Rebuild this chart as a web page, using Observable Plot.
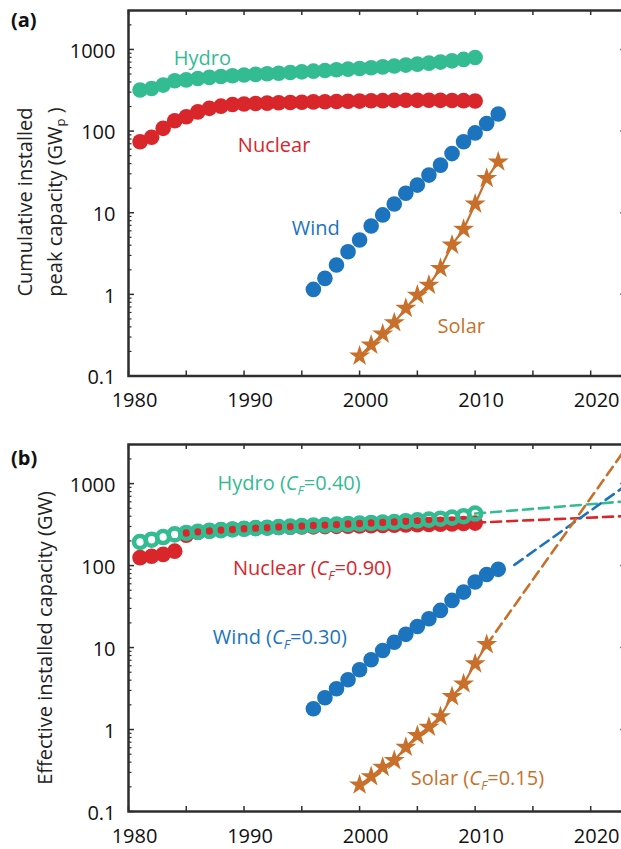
<!DOCTYPE html>
<html><head><meta charset="utf-8">
<script src="https://cdn.jsdelivr.net/npm/d3@7"></script>
<script src="https://cdn.jsdelivr.net/npm/@observablehq/plot@0.6"></script>
<style>
html,body{margin:0;padding:0;width:621px;height:849px;overflow:hidden;background:#fff;font-family:"Open Sans",sans-serif;}
#wrap{position:relative;width:621px;height:849px;overflow:hidden;}
.panel{position:absolute;left:0;}
.panel svg{max-width:none!important;}
.ylab{position:absolute;transform:translate(-50%,-50%) rotate(-90deg);white-space:nowrap;font-size:20px;color:#222;text-align:center;line-height:30px;}
.ylab sub{font-size:13px;vertical-align:-3px;}
.tag{position:absolute;font-weight:bold;font-size:20px;color:#111;}
</style></head>
<body><div id="wrap"></div>
<script>
// ---------- data ----------
const yearsHN = [1981,1982,1983,1984,1985,1986,1987,1988,1989,1990,1991,1992,1993,1994,1995,1996,1997,1998,1999,2000,2001,2002,2003,2004,2005,2006,2007,2008,2009,2010];
const hydroPeak   = [318,333,366,413,424,441,455,466,476,486,495,503,512,522,532,542,552,563,574,585,598,612,626,643,661,680,700,725,755,798];
const nuclearPeak = [74,84,108,134,150,172,190,202,212,215,218,220,222,224,226,228,229,230,232,233,235,236,238,239,238,239,238,237,236,234];
const windYears = [1996,1997,1998,1999,2000,2001,2002,2003,2004,2005,2006,2007,2008,2009,2010,2011,2012];
const windPeak  = [1.15,1.57,2.29,3.33,4.63,6.87,9.4,12.8,17.3,21.8,28.9,38.3,53,74,95,124,162];
const solarYearsA = [2000,2001,2002,2003,2004,2005,2006,2007,2008,2009,2010,2011,2012];
const solarPeak   = [0.176,0.24,0.327,0.45,0.676,0.98,1.3,2.08,4.03,6.27,12.8,26.4,42];

const hydroEff   = [194,207,223,240,250,258,265,271,276,281,286,290,295,299,303,308,312,316,321,326,331,335,340,348,356,364,373,385,400,431];
const nuclearEff = [125,130,137,150,235,255,265,272,278,282,286,289,291,293,295,297,299,301,303,305,307,309,311,313,315,317,319,322,326,330];
const windEff    = [1.79,2.44,3.14,4.05,5.36,7.1,9.2,11.6,14.5,18.1,22.5,28.4,37.6,47.5,63,78,90];
const solarYearsB = [2000,2001,2002,2003,2004,2005,2006,2007,2008,2009,2010,2011];
const solarEff    = [0.211,0.267,0.347,0.419,0.609,0.845,1.07,1.44,2.53,3.61,6.34,10.9];

// projections (dashed) in panel b
const hydroProjYears = [2010, 2025],   hydroProj = [431, 640];
const nuclearProjYears = [2010, 2025], nuclearProj = [334, 413];
const windProjYears = [2013.4, 2025],  windProj = [102, 1490];
const solarProjYears = [2011, 2025],   solarProj = [10.8, 6600];

// axes
const xTicks = [1980,1990,2000,2010,2020];
const xTickLabels = ["1980","1990","2000","2010","2020"];
const xMinorTicks = [1980,1985,1990,1995,2000,2005,2010,2015,2020];
const yTicks = [0.1,1,10,100,1000];
const yTickLabels = ["0.1","1","10","100","1000"];
const yMinorTicks = [];
for (const d of [0.1,1,10,100,1000]) for (let k=2;k<=9;k++) if (d*k<=3000) yMinorTicks.push(+(d*k).toPrecision(3));

// labels
const labelsA = [
  {text:"Hydro", x:1986.4, y:780, key:"hydro"},
  {text:"Nuclear", x:1992.6, y:67, key:"nuclear"},
  {text:"Wind", x:1996.2, y:6.4, key:"wind"},
  {text:"Solar", x:2008.8, y:0.40, key:"solar"}
];
const labelsB = [
  {text:"Hydro (C_F=0.40)", x:1993.9, y:1000, key:"hydro"},
  {text:"Nuclear (C_F=0.90)", x:1995.9, y:92, key:"nuclear"},
  {text:"Wind (C_F=0.30)", x:1993.1, y:13.4, key:"wind"},
  {text:"Solar (C_F=0.15)", x:2010.2, y:0.25, key:"solar"}
];

const colors = {hydro:"#33bb92", nuclear:"#d9262b", wind:"#1b74bd", solar:"#c8702b"};

const zip = (xs, ys) => xs.map((x,i) => ({x, y: ys[i]}));

// ---------- layout ----------
const W = 640, ML = 128, MR = 14;
const FW = W - ML - MR;

function axesMarks(frameH){
  const ax = "#2e2e2e";
  return [
    Plot.tickX(xMinorTicks, {x:d=>d, insetTop: frameH-5, stroke:ax, strokeWidth:1.5}),
    Plot.tickX(xMinorTicks, {x:d=>d, insetBottom: frameH-5, stroke:ax, strokeWidth:1.5}),
    Plot.tickY(yTicks, {y:d=>d, insetRight: FW-6, stroke:ax, strokeWidth:1.5}),
    Plot.tickY(yMinorTicks, {y:d=>d, insetRight: FW-3.5, stroke:ax, strokeWidth:1.2}),
    Plot.tickY(yTicks, {y:d=>d, insetLeft: FW-6, stroke:"#777", strokeWidth:1.5}),
    Plot.tickY(yMinorTicks, {y:d=>d, insetLeft: FW-3.5, stroke:"#777", strokeWidth:1.2}),
    Plot.frame({stroke:ax, strokeWidth:2.5}),
    Plot.axisX(xTicks, {anchor:"bottom", label:null, tickSize:0, tickPadding:17, dx:6, fontSize:20, fill:"#111", tickFormat:(d)=>xTickLabels[xTicks.indexOf(d)]}),
    Plot.axisY(yTicks, {anchor:"left", label:null, tickSize:0, tickPadding:13, dy:2, fontSize:20, fill:"#111", tickFormat:(d)=>yTickLabels[yTicks.indexOf(d)]})
  ];
}

function base(height, mt, mb, marks){
  const svg = Plot.plot({
    width: W, height, marginLeft: ML, marginRight: MR, marginTop: mt, marginBottom: mb,
    x: {domain:[1980, 2023.1], label:null},
    y: {type:"log", domain:[0.1, 3000], label:null},
    style: {fontFamily:"Open Sans", fontSize:"20px", background:"transparent", overflow:"visible"},
    marks
  });
  svg.style.maxWidth = "none";
  return svg;
}

function labelMarks(labels){
  return labels.map(l => Plot.text([l], {x:"x", y:"y", text:"text", fill: colors[l.key], fontSize:20, textAnchor:"middle"}));
}

// Panel (a)
const HA = 416, MTA = 10, MBA = 40.5;
const panelA = base(HA, MTA, MBA, [
  ...axesMarks(HA-MTA-MBA),
  Plot.dot(zip(yearsHN, hydroPeak), {x:"x", y:"y", r:7.8, fill:colors.hydro}),
  Plot.dot(zip(yearsHN, nuclearPeak), {x:"x", y:"y", r:7.8, fill:colors.nuclear}),
  Plot.dot(zip(windYears, windPeak), {x:"x", y:"y", r:7.8, fill:colors.wind}),
  Plot.line(zip(solarYearsA, solarPeak), {x:"x", y:"y", stroke:colors.solar, strokeWidth:2.2}),
  Plot.dot(zip(solarYearsA, solarPeak), {x:"x", y:"y", r:6.6, symbol:"star", fill:colors.solar}),
  ...labelMarks(labelsA)
]);

// Panel (b)
const TB = 416, HB = 433, MTB = 28, MBB = 38;
const panelB = base(HB, MTB, MBB, [
  ...axesMarks(HB-MTB-MBB),
  Plot.line(zip(hydroProjYears, hydroProj), {x:"x", y:"y", stroke:colors.hydro, strokeWidth:2.6, strokeDasharray:"10,6", clip:true}),
  Plot.line(zip(nuclearProjYears, nuclearProj), {x:"x", y:"y", stroke:colors.nuclear, strokeWidth:2.6, strokeDasharray:"10,6", clip:true}),
  Plot.line(zip(windProjYears, windProj), {x:"x", y:"y", stroke:colors.wind, strokeWidth:2.6, strokeDasharray:"10,6", clip:true}),
  Plot.line(zip(solarProjYears, solarProj), {x:"x", y:"y", stroke:colors.solar, strokeWidth:2.6, strokeDasharray:"10,6", clip:true}),
  Plot.dot(zip(yearsHN, nuclearEff), {x:"x", y:"y", r:7.8, fill:colors.nuclear}),
  Plot.dot(zip(yearsHN, hydroEff), {x:"x", y:"y", r:6, stroke:colors.hydro, strokeWidth:4.6, fill:"none"}),
  Plot.dot(zip(windYears, windEff), {x:"x", y:"y", r:7.8, fill:colors.wind}),
  Plot.line(zip(solarYearsB, solarEff), {x:"x", y:"y", stroke:colors.solar, strokeWidth:2.2}),
  Plot.dot(zip(solarYearsB, solarEff), {x:"x", y:"y", r:6.6, symbol:"star", fill:colors.solar}),
  ...labelMarks(labelsB)
]);

// subscript C_F
d3.select(panelB).selectAll("text").filter(function(){ return this.textContent.includes("C_F"); }).each(function(){
  const [pre, post] = this.textContent.split("C_F");
  const sel = d3.select(this); sel.text(null);
  sel.append("tspan").text(pre);
  sel.append("tspan").attr("font-style","italic").text("C");
  sel.append("tspan").attr("font-style","italic").attr("font-size","13px").attr("dy","5").text("F");
  sel.append("tspan").attr("dy","-5").text(post);
});

const wrap = document.getElementById("wrap");
const divA = document.createElement("div"); divA.className="panel"; divA.style.top="0px"; divA.appendChild(panelA); wrap.appendChild(divA);
const divB = document.createElement("div"); divB.className="panel"; divB.style.top=TB+"px"; divB.appendChild(panelB); wrap.appendChild(divB);

function addHTML(cls, html, left, top){
  const d = document.createElement("div"); d.className = cls; d.innerHTML = html;
  d.style.left = left+"px"; d.style.top = top+"px"; wrap.appendChild(d); return d;
}
addHTML("ylab", "Cumulative installed<br>peak capacity (GW<sub>p</sub> )", 42, 202);
addHTML("ylab", "Effective installed capacity (GW)", 45, 638);
addHTML("tag", "(a)", 11, 6);
addHTML("tag", "(b)", 11, 444);
</script>
</body></html>
